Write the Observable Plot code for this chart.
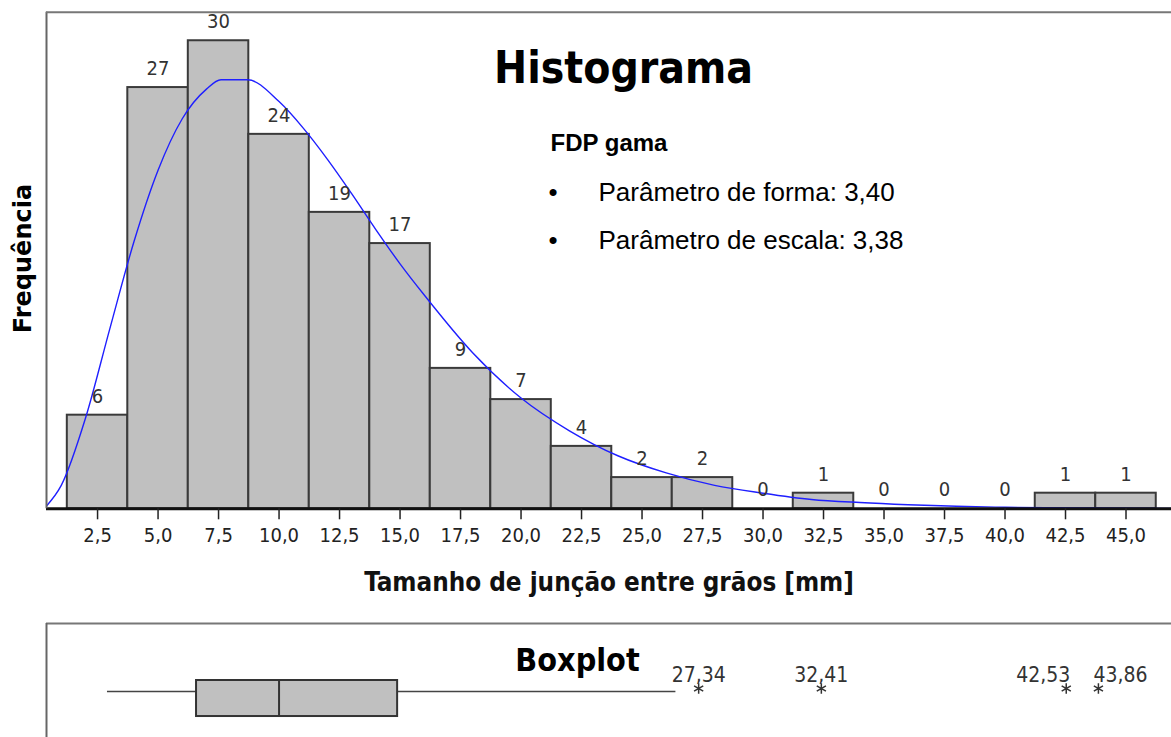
<!DOCTYPE html>
<html>
<head>
<meta charset="utf-8">
<script src="https://cdn.jsdelivr.net/npm/d3@7"></script>
<script src="https://cdn.jsdelivr.net/npm/@observablehq/plot@0.6"></script>
<style>
  html, body { margin: 0; padding: 0; background: #fff; }
  #wrap { position: relative; width: 1171px; height: 737px; overflow: hidden; background: #fff; }
  #hist, #box { position: absolute; left: 0; }
  #hist { top: 0; }
  #box { top: 620px; }
</style>
</head>
<body>
<div id="wrap"><div id="hist"></div><div id="box"></div></div>
<script>
// ---- data ----
const binCenters = [2.5, 5.0, 7.5, 10.0, 12.5, 15.0, 17.5, 20.0, 22.5, 25.0, 27.5, 30.0, 32.5, 35.0, 37.5, 40.0, 42.5, 45.0];
const counts     = [6, 27, 30, 24, 19, 17, 9, 7, 4, 2, 2, 0, 1, 0, 0, 0, 1, 1];
const binWidth = 2.5;
const tickValues = [2.5, 5.0, 7.5, 10.0, 12.5, 15.0, 17.5, 20.0, 22.5, 25.0, 27.5, 30.0, 32.5, 35.0, 37.5, 40.0, 42.5, 45.0];

// fitted gamma density (scaled to counts)
const curveX = [0.4, 1, 2, 3, 4, 5, 6, 7, 7.6, 8.7, 10, 11, 12, 13, 14, 15, 16, 18, 20, 22, 24, 26, 28, 30, 32, 34, 36, 38, 40, 43, 47];
const curveY = [0.2, 1.5, 5.8, 11.5, 17.1, 21.7, 25.0, 26.9, 27.5, 27.5, 26.1, 24.4, 22.4, 20.2, 17.9, 15.7, 13.7, 10.0, 7.1, 5.0, 3.4, 2.3, 1.5, 1.0, 0.6, 0.4, 0.26, 0.16, 0.1, 0.05, 0.02];

const chartTitle = "Histograma";
const xLabel = "Tamanho de junção entre grãos [mm]";
const yLabel = "Frequência";
const fitTitle = "FDP gama";
const fitLines = ["Parâmetro de forma: 3,40", "Parâmetro de escala: 3,38"];

// boxplot
const boxTitle = "Boxplot";
const whiskerLow = 2.91, q1 = 6.59, median = 10.0, q3 = 14.9, whiskerHigh = 26.4;
const outliers = [27.34, 32.41, 42.53, 43.86];

// ---- chart ----
const xDomain = [0.39, 46.88];
const yMax = 31.83;
const fmt1 = d => d.toFixed(1).replace(".", ",");
const fmt2 = d => d.toFixed(2).replace(".", ",");
const tahoma = "'DejaVu Sans Condensed', 'DejaVu Sans', sans-serif";
const verdana = "'DejaVu Sans', sans-serif";
const arial = "'Liberation Sans', Arial, sans-serif";

const bins = binCenters.map((c, i) => ({x1: c - binWidth / 2, x2: c + binWidth / 2, xc: c, n: counts[i]}));
const curve = curveX.map((x, i) => ({x, y: curveY[i]}));

const bulletMarks = fitLines.flatMap((t, i) => [
  Plot.text(["•"], {frameAnchor: "top-left", dx: 502, dy: 170 + i * 48, fontSize: 26, fontFamily: arial, fill: "#000", textAnchor: "start"}),
  Plot.text([t], {frameAnchor: "top-left", dx: 552, dy: 170 + i * 48, fontSize: 26, fontFamily: arial, fill: "#000", textAnchor: "start"})
]);

const hist = Plot.plot({
  width: 1171, height: 620,
  marginLeft: 46, marginRight: 0, marginTop: 11.7, marginBottom: 111.7,
  x: {domain: xDomain, axis: null},
  y: {domain: [0, yMax], axis: null},
  style: {fontFamily: tahoma, fontSize: "20px", background: "white", color: "#222", overflow: "visible"},
  marks: [
    Plot.rectY(bins.filter(d => d.n > 0), {x1: "x1", x2: "x2", y: "n", fill: "#c0c0c0", stroke: "#3a3a3a", strokeWidth: 2}),
    Plot.line(curve, {x: "x", y: "y", stroke: "#1f1fff", strokeWidth: 1.4, curve: "monotone-x", clip: true}),
    Plot.text(bins, {x: "xc", y: "n", text: d => String(d.n), dy: -19, fontSize: 20, fill: "#333"}),
    Plot.ruleY([0], {stroke: "#111", strokeWidth: 3}),
    Plot.ruleX([xDomain[0]], {stroke: "#666", strokeWidth: 2}),
    Plot.ruleY([yMax], {stroke: "#777", strokeWidth: 2}),
    Plot.axisX({ticks: tickValues, tickFormat: fmt1, tickSize: 11, tickPadding: 8, fontSize: 20, color: "#222", strokeWidth: 1.5, label: null}),
    Plot.text([xLabel], {frameAnchor: "bottom", dy: 82, fontSize: 25.8, fontWeight: "bold", fill: "#111", textAnchor: "middle"}),
    Plot.text([yLabel], {frameAnchor: "left", rotate: -90, dx: -23, dy: -2, fontSize: 24, fontFamily: verdana, fontWeight: "bold", fill: "#000", textAnchor: "middle"}),
    Plot.text([chartTitle], {frameAnchor: "top-left", dx: 577, dy: 40, fontSize: 44, fontWeight: "bold", fill: "#000", textAnchor: "middle"}),
    Plot.text([fitTitle], {frameAnchor: "top-left", dx: 504, dy: 121.6, fontSize: 24, fontWeight: "bold", fontFamily: arial, fill: "#000", textAnchor: "start"}),
    ...bulletMarks
  ]
});
document.getElementById("hist").appendChild(hist);

const boxRow = [{lo: whiskerLow, q1, med: median, q3, hi: whiskerHigh}];
const yBoxBottom = 0.184, yBoxTop = 0.5, yWhisker = 0.404, yStar = 0.43, yOutLabel = 0.544;

const boxPlot = Plot.plot({
  width: 1171, height: 117,
  marginLeft: 46, marginRight: 0, marginTop: 3, marginBottom: 0,
  x: {domain: xDomain, axis: null},
  y: {domain: [0, 1], axis: null},
  style: {fontFamily: tahoma, fontSize: "20px", background: "white", color: "#222", overflow: "visible"},
  marks: [
    Plot.ruleY([1], {stroke: "#777", strokeWidth: 2}),
    Plot.ruleX([xDomain[0]], {stroke: "#666", strokeWidth: 2}),
    Plot.ruleY(boxRow, {x1: "lo", x2: "q1", y: yWhisker, stroke: "#444", strokeWidth: 1.5}),
    Plot.ruleY(boxRow, {x1: "q3", x2: "hi", y: yWhisker, stroke: "#444", strokeWidth: 1.5}),
    Plot.rect(boxRow, {x1: "q1", x2: "q3", y1: yBoxBottom, y2: yBoxTop, fill: "#c0c0c0", stroke: "#333", strokeWidth: 2}),
    Plot.ruleX(boxRow, {x: "med", y1: yBoxBottom, y2: yBoxTop, stroke: "#333", strokeWidth: 2}),
    Plot.dot(outliers, {x: d => d, y: yStar, symbol: "asterisk", r: 5, stroke: "#333", strokeWidth: 1.5}),
    Plot.text(outliers.slice(0, 2), {x: d => d, y: yOutLabel, text: fmt2, fontSize: 21, fill: "#333"}),
    Plot.text(outliers.slice(2, 3), {x: d => d, y: yOutLabel, text: fmt2, fontSize: 21, fill: "#333", textAnchor: "end", dx: 4}),
    Plot.text(outliers.slice(3, 4), {x: d => d, y: yOutLabel, text: fmt2, fontSize: 21, fill: "#333", textAnchor: "start", dx: -5}),
    Plot.text([boxTitle], {frameAnchor: "top-left", dx: 531, dy: 24.4, fontSize: 32, fontWeight: "bold", fill: "#000", textAnchor: "middle"})
  ]
});
document.getElementById("box").appendChild(boxPlot);
</script>
</body>
</html>
